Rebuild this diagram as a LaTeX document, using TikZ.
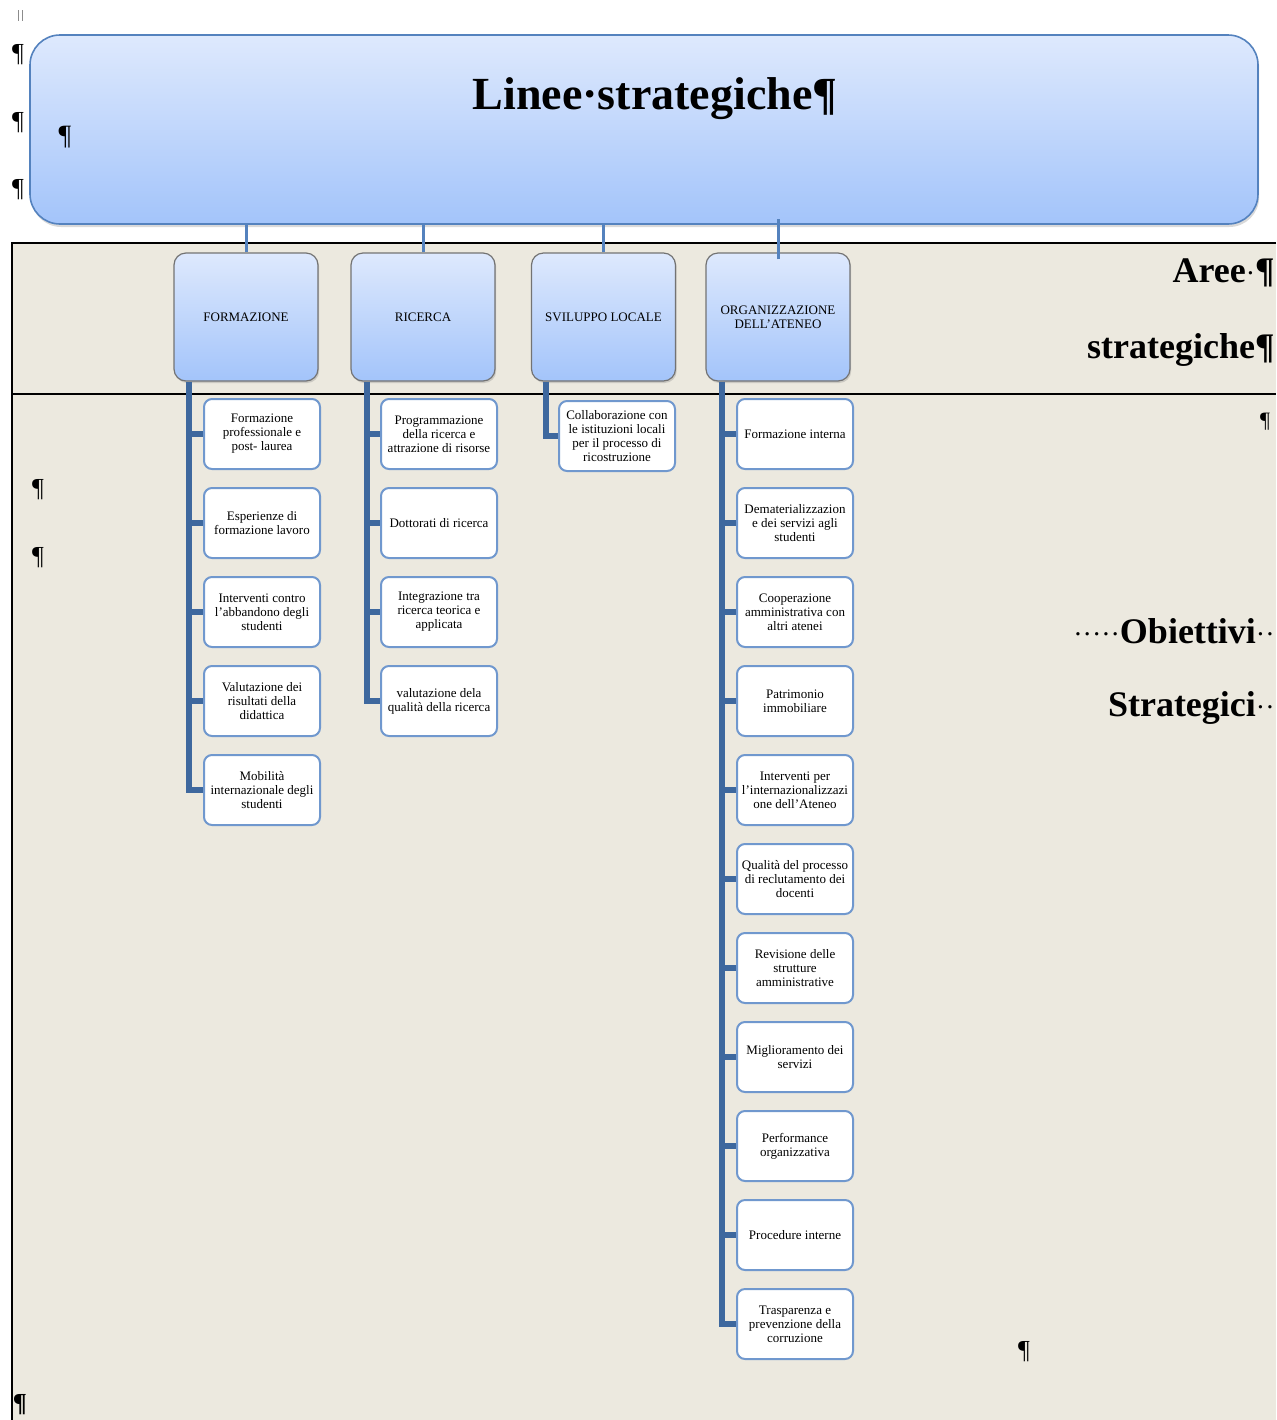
\documentclass[tikz,border=0pt]{standalone}
\usepackage{fontspec}
\setmainfont{Liberation Serif}
\usetikzlibrary{positioning,shadows}
\definecolor{paper}{RGB}{236,233,223}
\definecolor{boxtop}{RGB}{222,233,253}
\definecolor{boxbot}{RGB}{163,196,250}
\definecolor{boxrim}{RGB}{84,130,190}
\definecolor{trunk}{RGB}{62,104,158}
\definecolor{kidrim}{RGB}{112,152,206}
\newcommand\kidfont{\fontsize{6.5}{7}\selectfont}
\newcommand\dotm[1]{{\mdseries\fontsize{14}{14}\selectfont#1}}
\tikzset{
  areabox/.style={draw=black!55,line width=0.6pt,rounded corners=6pt,top color=boxtop,bottom color=boxbot,
    minimum width=72pt,minimum height=64pt,align=center,font=\kidfont,
    drop shadow={opacity=0.3,shadow xshift=0.6pt,shadow yshift=-1pt}},
  kidbox/.style={draw=kidrim,line width=1pt,rounded corners=4pt,fill=white,minimum width=58pt,
    minimum height=35pt,align=center,font=\kidfont,inner sep=1.5pt},
  trunkline/.style={draw=trunk,line width=3pt},
  topline/.style={draw=boxrim,line width=1.5pt},
  pil/.style={font=\fontsize{13}{13}\selectfont,inner sep=0pt},
  side/.style={font=\bfseries\fontsize{18}{18}\selectfont,inner sep=0pt,anchor=east}
}
\begin{document}
\begin{tikzpicture}[x=0.5pt,y=-0.5pt,node distance=44.5pt]
\useasboundingbox (0,0) rectangle (1276,1420);
\clip (0,0) rectangle (1276,1420);
% tabella
\fill[paper] (12,243) rectangle (1276,1420);
\draw[line width=0.8pt] (1276,243) -- (12,243) -- (12,1420);
\draw[line width=0.8pt] (12,394) -- (1276,394);
\draw[black!45,line width=0.4pt] (18,10) -- (18,21) (22,10) -- (22,21);
\node[pil] (P1) at (18,55) {¶};
\node[pil] (P2) at (18,123) {¶};
\node[pil] (P3) at (18,190) {¶};
% linee strategiche
\node[draw=boxrim,line width=0.8pt,rounded corners=15pt,top color=boxtop,bottom color=boxbot,
  minimum width=614pt,minimum height=94.5pt,
  drop shadow={opacity=0.3,shadow xshift=0.6pt,shadow yshift=-1.5pt}] (LS) at (644,129.5) {};
\node[font=\bfseries\fontsize{23}{23}\selectfont] (LT) at (655,99) {Linee·strategiche¶};
\node[pil,font=\fontsize{14}{14}\selectfont] (P4) at (65,137) {¶};
% aree strategiche
\node[areabox] (A1) at (246,317) {FORMAZIONE};
\node[areabox] (A2) at (423,317) {RICERCA};
\node[areabox] (A3) at (603.5,317) {SVILUPPO LOCALE};
\node[areabox] (A4) at (778,317) {ORGANIZZAZIONE\\DELL'ATENEO};
\foreach \a in {A1,A2,A3}
  \draw[topline] (\a.north) -- (\a.north |- LS.south);
\draw[topline] ([yshift=-3.5pt]A4.north) -- ([yshift=3pt]A4.north |- LS.south);
% obiettivi
\node[kidbox] (F1) at (262,434) {Formazione\\professionale e\\post- laurea};
\node[kidbox,below of=F1] (F2) {Esperienze di\\formazione lavoro};
\node[kidbox,below of=F2] (F3) {Interventi contro\\l'abbandono degli\\studenti};
\node[kidbox,below of=F3] (F4) {Valutazione dei\\risultati della\\didattica};
\node[kidbox,below of=F4] (F5) {Mobilità\\internazionale degli\\studenti};
\node[kidbox] (R1) at (439,434) {Programmazione\\della ricerca e\\attrazione di risorse};
\node[kidbox,below of=R1] (R2) {Dottorati di ricerca};
\node[kidbox,below of=R2] (R3) {Integrazione tra\\ricerca teorica e\\applicata};
\node[kidbox,below of=R3] (R4) {valutazione dela\\qualità della ricerca};
\node[kidbox] (S1) at (617,436) {Collaborazione con\\le istituzioni locali\\per il processo di\\ricostruzione};
\node[kidbox] (O1) at (795,434) {Formazione interna};
\node[kidbox,below of=O1] (O2) {Dematerializzazion\\e dei servizi agli\\studenti};
\node[kidbox,below of=O2] (O3) {Cooperazione\\amministrativa con\\altri atenei};
\node[kidbox,below of=O3] (O4) {Patrimonio\\immobiliare};
\node[kidbox,below of=O4] (O5) {Interventi per\\l'internazionalizzazi\\one dell'Ateneo};
\node[kidbox,below of=O5] (O6) {Qualità del processo\\di reclutamento dei\\docenti};
\node[kidbox,below of=O6] (O7) {Revisione delle\\strutture\\amministrative};
\node[kidbox,below of=O7] (O8) {Miglioramento dei\\servizi};
\node[kidbox,below of=O8] (O9) {Performance\\organizzativa};
\node[kidbox,below of=O9] (O10) {Procedure interne};
\node[kidbox,below of=O10] (O11) {Trasparenza e\\prevenzione della\\corruzione};
% tronchi
\coordinate (TF) at ([xshift=8pt]A1.south west);
\coordinate (TR) at ([xshift=8.5pt]A2.south west);
\coordinate (TS) at ([xshift=7.5pt]A3.south west);
\coordinate (TO) at ([xshift=8.5pt]A4.south west);
\draw[trunkline] (TF) |- (F5.west);
\foreach \k in {F1,F2,F3,F4} \draw[trunkline] (TF |- \k.west) -- (\k.west);
\draw[trunkline] (TR) |- (R4.west);
\foreach \k in {R1,R2,R3} \draw[trunkline] (TR |- \k.west) -- (\k.west);
\draw[trunkline] (TS) |- (S1.west);
\draw[trunkline] (TO) |- (O11.west);
\foreach \k in {O1,O2,O3,O4,O5,O6,O7,O8,O9,O10} \draw[trunkline] (TO |- \k.west) -- (\k.west);
% testi a destra
\node[side] (AS1) at (1275,273) {Aree\dotm{·}¶};
\node[side] (AS2) at (1275,350) {strategiche¶};
\node[side] (OS1) at (1275,631) {\dotm{·····}Obiettivi\dotm{··}};
\node[side] (OS2) at (1275,708) {Strategici\dotm{··}};
\node[pil,font=\fontsize{11}{11}\selectfont] (P5) at (1265,422) {¶};
\node[pil] (P6) at (38,490) {¶};
\node[pil] (P7) at (38,558) {¶};
\node[pil] (P8) at (1024,1352) {¶};
\node[pil,font=\bfseries\fontsize{13}{13}\selectfont] (P9) at (20,1405) {¶};
\end{tikzpicture}
\end{document}
